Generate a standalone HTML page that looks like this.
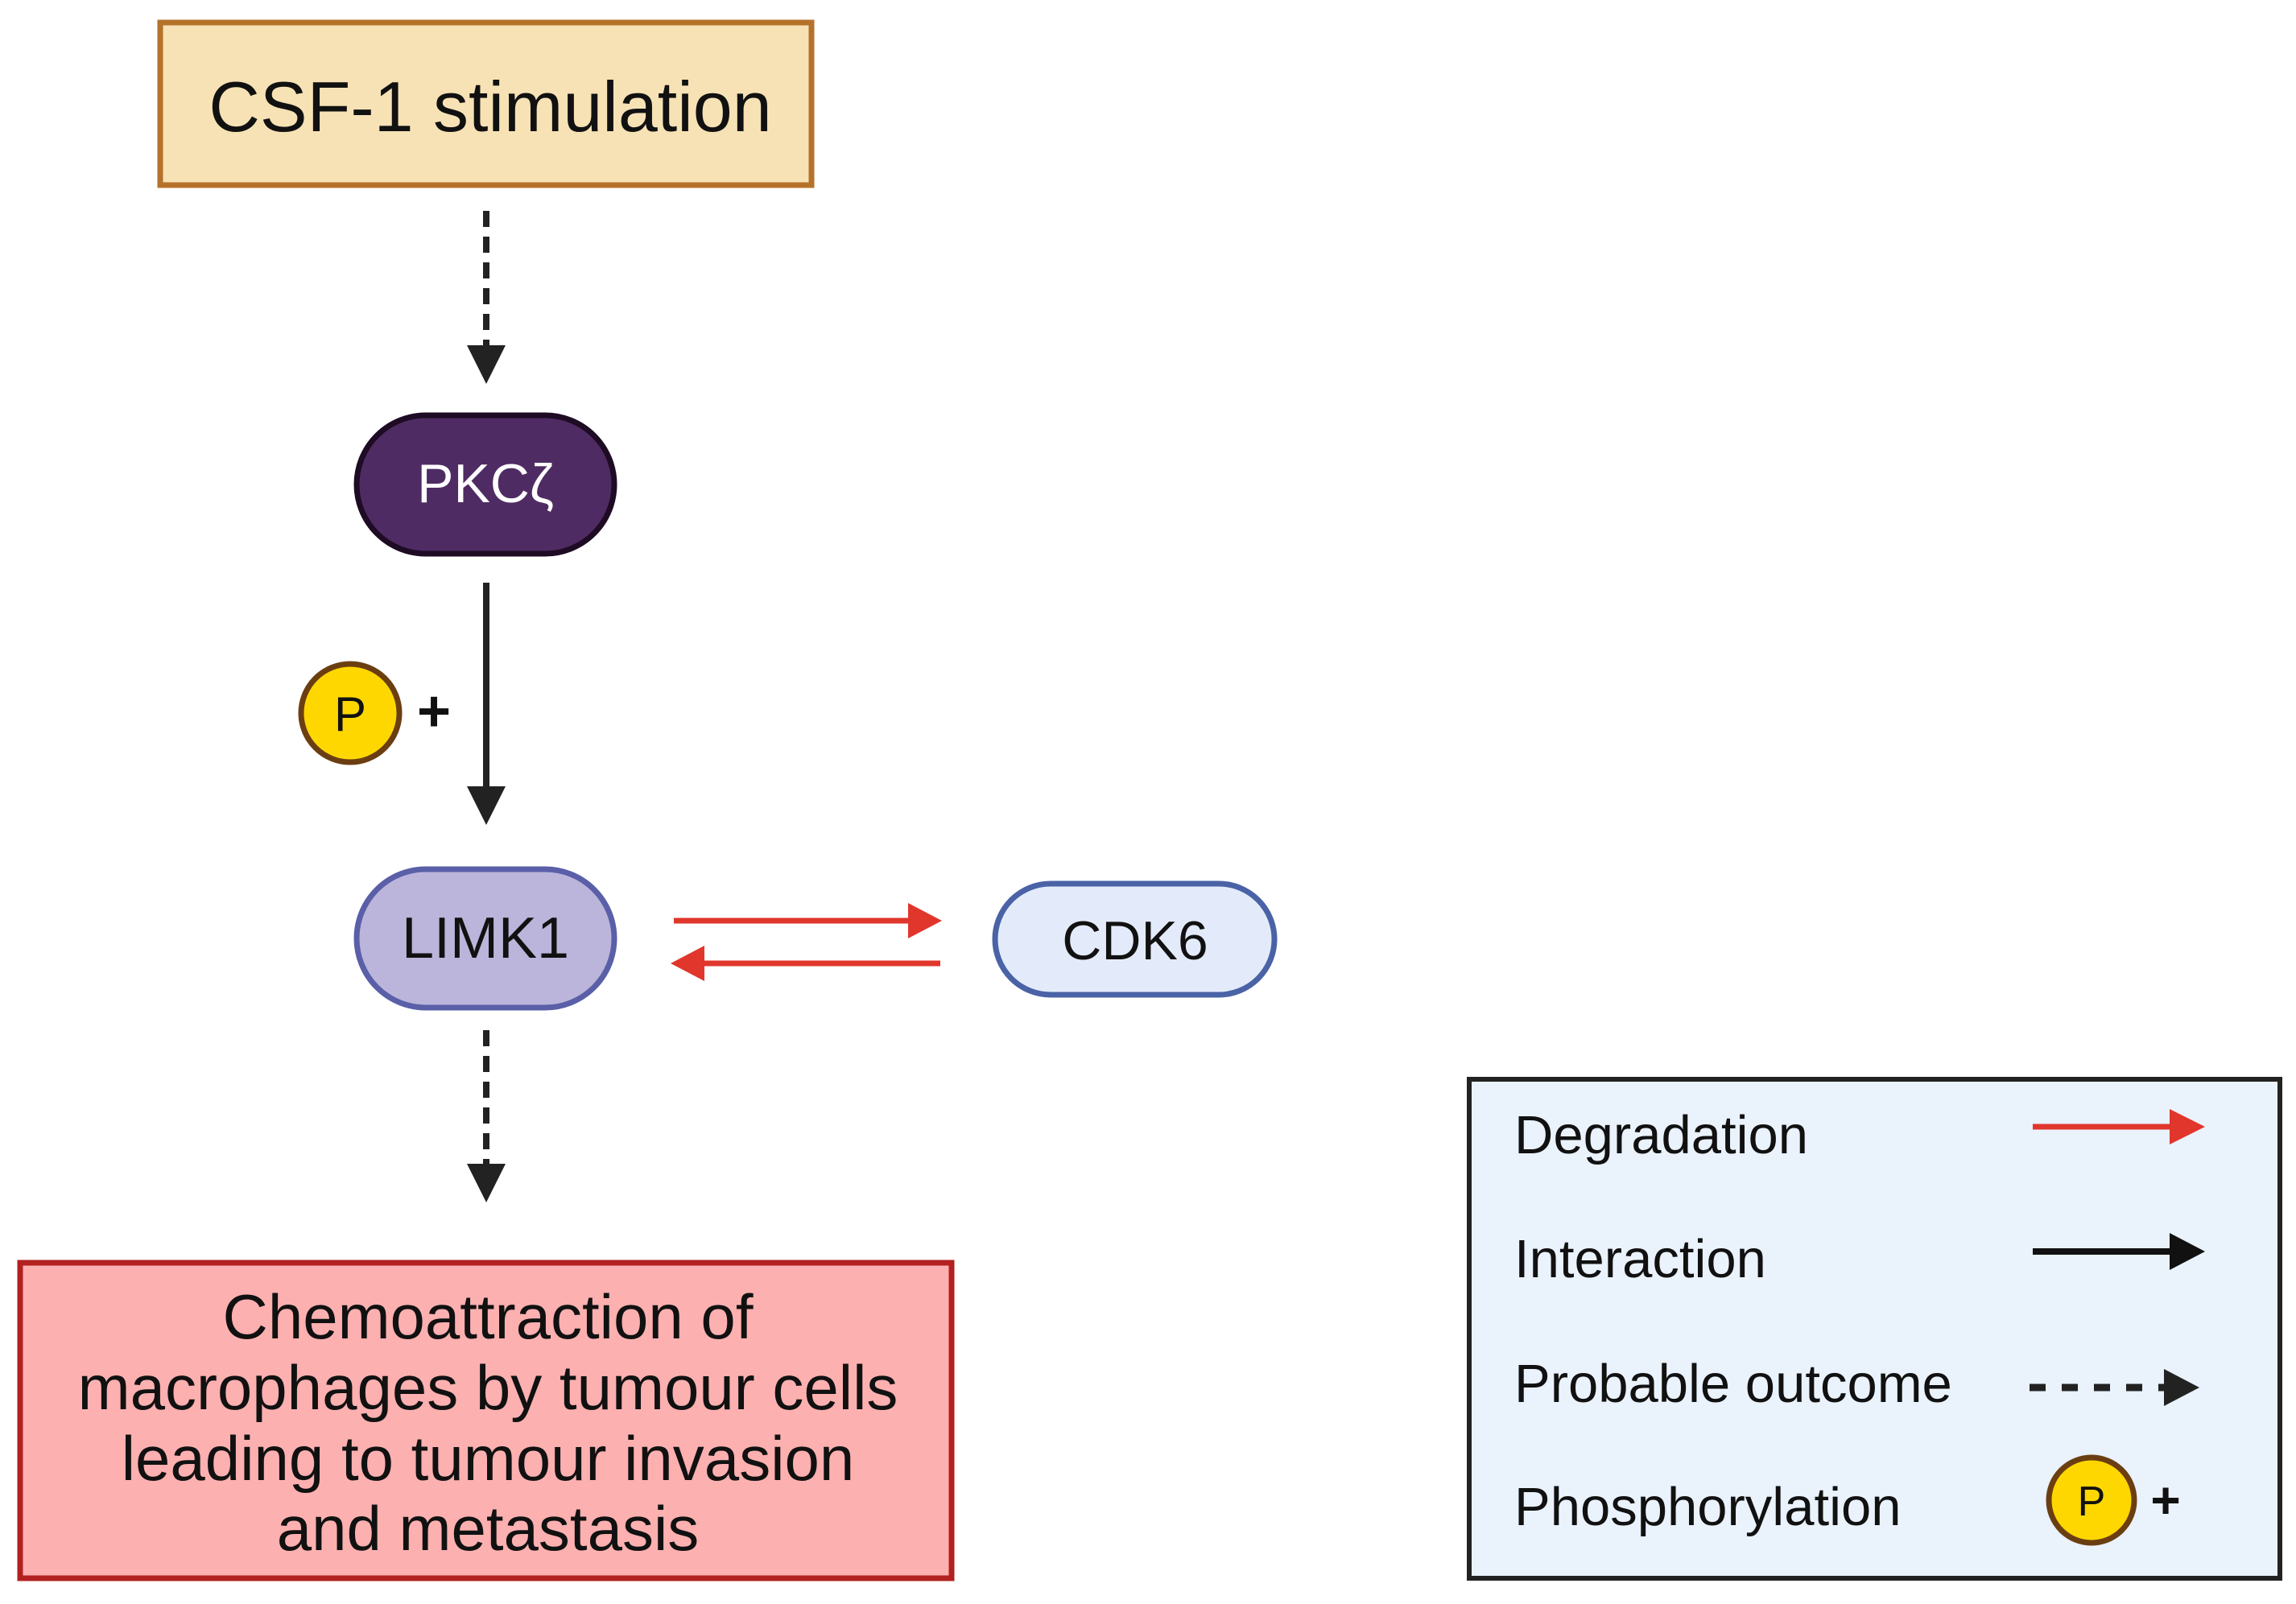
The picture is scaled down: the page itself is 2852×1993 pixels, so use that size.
<!DOCTYPE html>
<html><head><meta charset="utf-8"><style>
html,body{margin:0;padding:0;background:#fff;}
svg{display:block;}
text{font-family:"Liberation Sans",sans-serif;}
</style></head><body>
<svg width="2852" height="1993" viewBox="0 0 2852 1993" xmlns="http://www.w3.org/2000/svg">
<rect x="0" y="0" width="2852" height="1993" fill="#fff"/>
<rect x="199" y="28" width="809" height="202" fill="#F7E2B5" stroke="#B5722A" stroke-width="7"/>
<text x="609" y="163" font-size="88" text-anchor="middle" fill="#111">CSF-1 stimulation</text>
<line x1="604" y1="262" x2="604" y2="432" stroke="#222" stroke-width="8" stroke-dasharray="20,12"/>
<polygon points="580,429 628,429 604,477" fill="#222"/>
<rect x="443" y="516" width="320" height="172" rx="86" fill="#4F2B63" stroke="#1E0B24" stroke-width="7"/>
<text x="603" y="624" font-size="68" text-anchor="middle" fill="#fff">PKCζ</text>
<line x1="604" y1="724" x2="604" y2="980" stroke="#222" stroke-width="8"/>
<polygon points="580,977 628,977 604,1025" fill="#222"/>
<circle cx="435" cy="886" r="61" fill="#FFD700" stroke="#6B3E12" stroke-width="7"/>
<text x="435" y="908" font-size="60" text-anchor="middle" fill="#111">P</text>
<text x="539" y="908" font-size="72" font-weight="bold" text-anchor="middle" fill="#111">+</text>
<rect x="443" y="1080" width="320" height="172" rx="86" fill="#BBB5DB" stroke="#5A5FA8" stroke-width="7"/>
<text x="603" y="1190" font-size="72" text-anchor="middle" fill="#111">LIMK1</text>
<line x1="837" y1="1144" x2="1132" y2="1144" stroke="#E0362C" stroke-width="7"/>
<polygon points="1128,1122 1170,1144 1128,1166" fill="#E0362C"/>
<line x1="870" y1="1197" x2="1168" y2="1197" stroke="#E0362C" stroke-width="7"/>
<polygon points="875,1175 833,1197 875,1219" fill="#E0362C"/>
<rect x="1236" y="1098" width="347" height="138" rx="69" fill="#E3EBFA" stroke="#4A62A6" stroke-width="7"/>
<text x="1410" y="1192" font-size="68" text-anchor="middle" fill="#111">CDK6</text>
<line x1="604" y1="1280" x2="604" y2="1450" stroke="#222" stroke-width="8" stroke-dasharray="20,12"/>
<polygon points="580,1446 628,1446 604,1494" fill="#222"/>
<rect x="25" y="1569" width="1157" height="392" fill="#FDB0B0" stroke="#B22020" stroke-width="7"/>
<g font-size="78" text-anchor="middle" fill="#111">
<text x="606" y="1663">Chemoattraction of</text>
<text x="606" y="1751">macrophages by tumour cells</text>
<text x="606" y="1839">leading to tumour invasion</text>
<text x="606" y="1926">and metastasis</text>
</g>
<rect x="1825" y="1341" width="1007" height="620" fill="#EAF2FC" stroke="#222" stroke-width="6"/>
<g font-size="67" fill="#111">
<text x="1881" y="1433">Degradation</text>
<text x="1881" y="1587">Interaction</text>
<text x="1881" y="1742">Probable outcome</text>
<text x="1881" y="1895">Phosphorylation</text>
</g>
<line x1="2525" y1="1400" x2="2700" y2="1400" stroke="#E0362C" stroke-width="7"/>
<polygon points="2695,1378 2739,1400 2695,1422" fill="#E0362C"/>
<line x1="2525" y1="1555" x2="2700" y2="1555" stroke="#111" stroke-width="8"/>
<polygon points="2695,1532 2739,1555 2695,1578" fill="#111"/>
<line x1="2521" y1="1724" x2="2695" y2="1724" stroke="#222" stroke-width="9" stroke-dasharray="20,20"/>
<polygon points="2688,1701 2732,1724 2688,1747" fill="#222"/>
<circle cx="2598" cy="1864" r="53" fill="#FFD700" stroke="#6B3E12" stroke-width="7"/>
<text x="2598" y="1883" font-size="52" text-anchor="middle" fill="#111">P</text>
<text x="2690" y="1886" font-size="64" font-weight="bold" text-anchor="middle" fill="#111">+</text>
</svg>
</body></html>
